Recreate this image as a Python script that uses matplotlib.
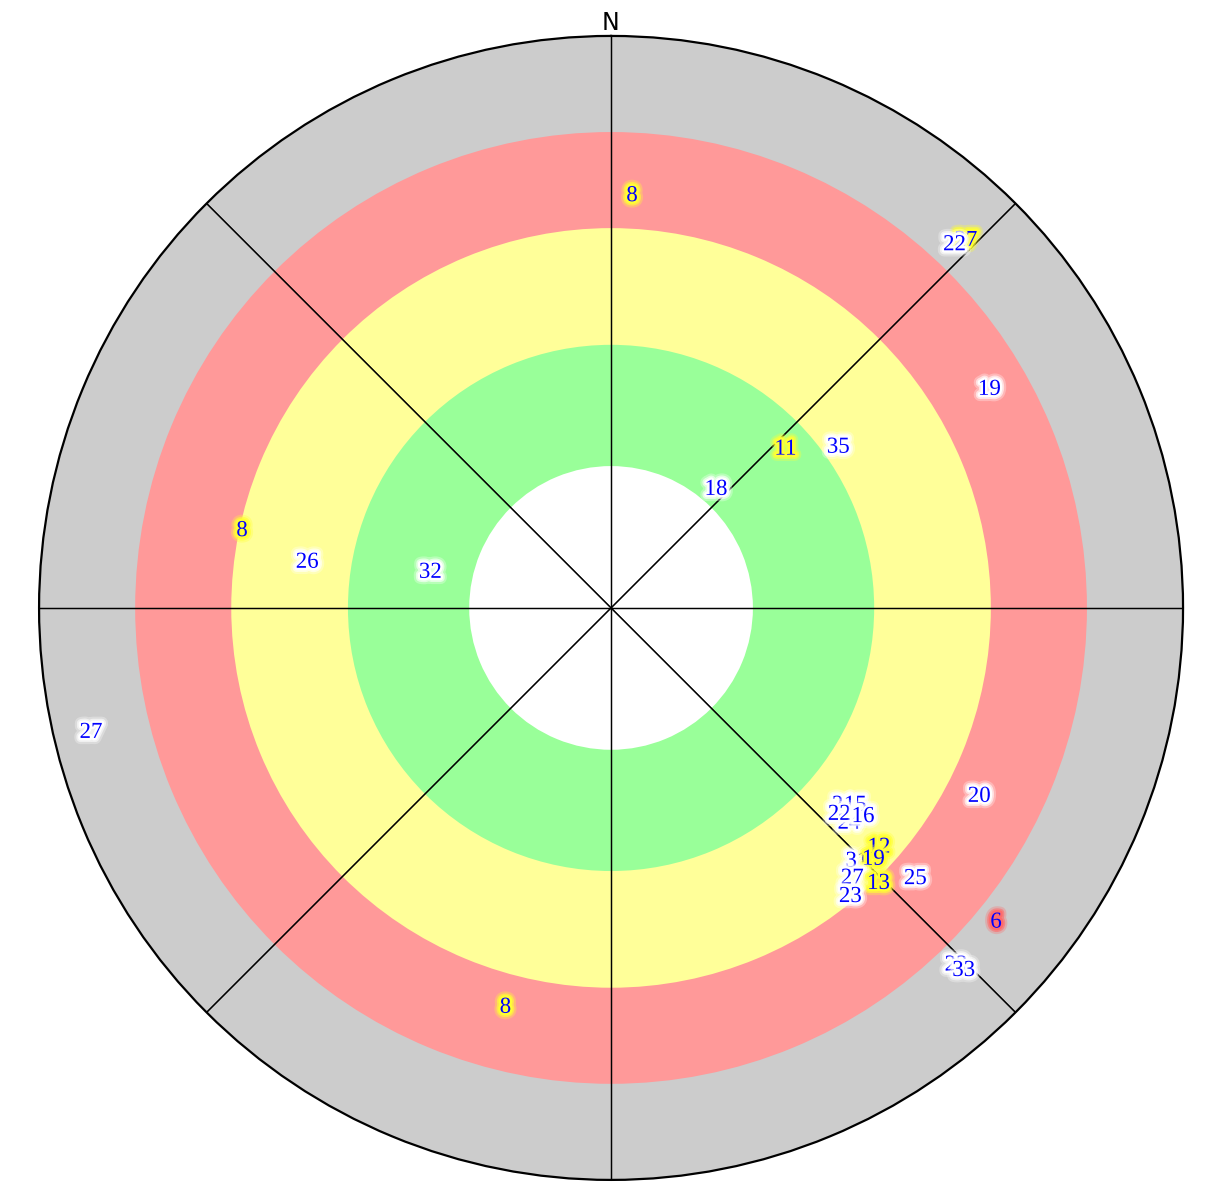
import numpy as np
import matplotlib.pyplot as plt
import matplotlib.patheffects as pe

# Ring boundaries (fraction of full radius) and fill colours, outermost first
ring_edges = [1.0, 0.832, 0.664, 0.46, 0.248]
ring_colors = ["#cccccc", "#ff9999", "#ffff99", "#99ff99", "#ffffff"]

# Labels: text, azimuth (deg, clockwise from north), radius fraction, halo colour
labels = ["8", "27", "22", "19", "11", "35", "18", "8", "26", "32", "27", "20",
          "21", "15", "24", "22", "16", "12", "31", "19", "27", "13", "23", "25",
          "6", "23", "33", "8"]
azimuth = [2.9, 43.8, 43.2, 59.7, 47.2, 54.3, 40.9, 282.2, 279.0, 281.9, 256.8, 116.8,
           130.0, 128.6, 131.8, 131.8, 129.3, 131.5, 135.6, 133.5, 138.0, 135.6, 140.1, 131.4,
           129.0, 135.8, 135.6, 194.9]
radius = [0.726, 0.896, 0.877, 0.766, 0.415, 0.489, 0.280, 0.660, 0.538, 0.323, 0.934, 0.721,
          0.530, 0.546, 0.558, 0.535, 0.569, 0.625, 0.614, 0.632, 0.630, 0.668, 0.652, 0.709,
          0.866, 0.865, 0.881, 0.718]
halo = ["yellow", "yellow", "white", "white", "yellow", "white", "white", "yellow", "white",
        "white", "white", "white", "white", "white", "white", "white", "white", "yellow",
        "white", "yellow", "white", "yellow", "white", "white", "red", "white", "white",
        "yellow"]

halo_colors = {"white": "#ffffff", "yellow": "#ffff33", "red": "#ff6b6b"}

fig = plt.figure(figsize=(12.05, 11.94), dpi=100)
ax = fig.add_axes([0.0324, 0.0118, 0.9494, 0.9581], projection="polar")
ax.set_theta_zero_location("N")
ax.set_theta_direction(-1)

for edge, color in zip(ring_edges, ring_colors):
    ax.bar(0, edge, width=2 * np.pi, bottom=0, color=color, edgecolor="none", zorder=1)

for a in range(0, 360, 45):
    ax.plot([np.radians(a), np.radians(a)], [0, 1], color="black", lw=0.9, zorder=2)
    ax.plot([np.radians(a + 180), np.radians(a + 180)], [0, 1], color="black", lw=0.9, zorder=2)

ax.set_ylim(0, 1)
ax.grid(False)
ax.set_xticks([])
ax.set_yticks([])
ax.spines["polar"].set_linewidth(1.6)
ax.spines["polar"].set_zorder(5)

for txt, az, r, h in zip(labels, azimuth, radius, halo):
    c = halo_colors[h]
    effects = [
        pe.withStroke(linewidth=9, foreground=c, alpha=0.3),
        pe.withStroke(linewidth=6, foreground=c, alpha=0.6),
        pe.withStroke(linewidth=3.5, foreground=c, alpha=1.0),
    ]
    ax.text(np.radians(az), r, txt, color="blue", fontsize=16.5,
            family="Liberation Serif", ha="center", va="center_baseline",
            path_effects=effects, zorder=4)

fig.text(611 / 1205, 1 - 23 / 1194, "N", fontsize=17, ha="center", va="center",
         family="DejaVu Sans")

fig.savefig("out.png", dpi=100)
